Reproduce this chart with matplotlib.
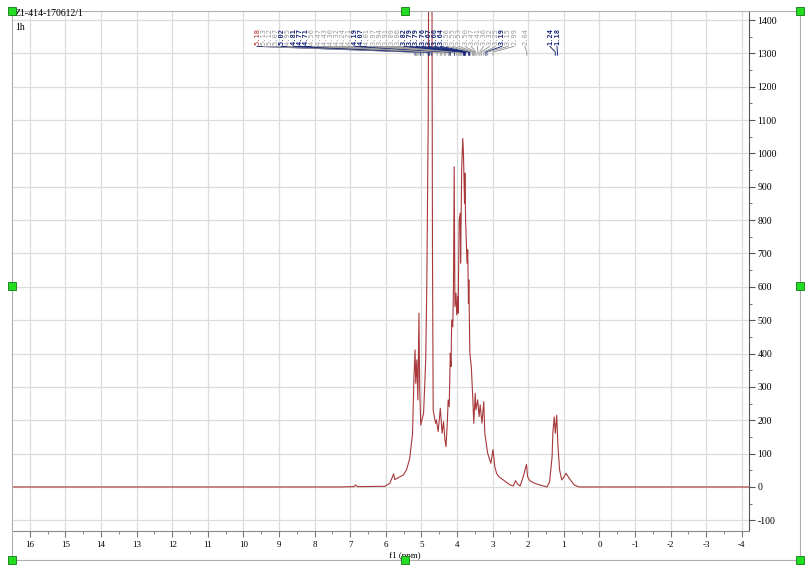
import matplotlib
matplotlib.use('Agg')
import matplotlib.pyplot as plt
from matplotlib.patches import Rectangle
from matplotlib.ticker import MultipleLocator

W, H = 810, 573  # output size in pixels

# 1H spectrum, points (ppm, intensity)
PPM = [16.5, 7.3, 6.9, 6.85, 6.8, 6.03, 5.89, 5.78, 5.75, 5.63, 5.51, 5.42,
       5.33, 5.25, 5.21, 5.18, 5.16, 5.13, 5.10, 5.07, 5.05, 5.02, 4.94,
       4.88, 4.85, 4.81, 4.79, 4.75, 4.71, 4.69, 4.67, 4.64, 4.60, 4.58,
       4.53, 4.47, 4.42, 4.38, 4.34, 4.31, 4.27, 4.25, 4.22, 4.19, 4.17,
       4.15, 4.12, 4.10, 4.08, 4.06, 4.03, 4.01, 3.98, 3.97, 3.94, 3.91,
       3.90, 3.87, 3.84, 3.82, 3.79, 3.78, 3.76, 3.72, 3.70, 3.68, 3.67,
       3.64, 3.60, 3.56, 3.53, 3.49, 3.47, 3.42, 3.38, 3.35, 3.30, 3.25,
       3.22, 3.14, 3.05, 2.99, 2.94, 2.89, 2.83, 2.70, 2.51, 2.42, 2.36,
       2.30, 2.23, 2.14, 2.05, 2.02, 1.96, 1.82, 1.68, 1.57, 1.47, 1.40,
       1.33, 1.31, 1.27, 1.24, 1.20, 1.17, 1.12, 1.06, 0.99, 0.94, 0.85,
       0.71, 0.57, -4.2]
INTENSITY = [0, 0, 1, 6, 1, 2, 11, 39, 22, 29, 36, 51,
             85, 160, 331, 411, 311, 381, 261, 521, 301, 186, 221,
             381, 600, 1100, 1800, 4000, 1800, 700, 231, 211, 191, 201,
             166, 236, 161, 196, 141, 121, 201, 261, 241, 401, 361,
             501, 480, 601, 960, 541, 581, 516, 571, 521, 801, 821,
             671, 951, 1045, 1001, 851, 941, 801, 671, 711, 551, 621,
             401, 361, 271, 191, 281, 231, 261, 211, 246, 191, 256,
             161, 101, 71, 112, 61, 41, 31, 21, 6, 3, 19,
             9, 3, 31, 68, 31, 19, 11, 6, 3, 0, 16,
             91, 161, 210, 161, 215, 131, 51, 21, 31, 41, 26,
             6, 0, 0]

# multiplet labels along the top
PEAK_LABELS = [5.18, 5.13, 5.12, 5.07, 5.02, 4.95, 4.81, 4.77, 4.71, 4.56,
               4.47, 4.43, 4.36, 4.32, 4.24, 4.21, 4.19, 4.07, 4.01, 3.97,
               3.94, 3.91, 3.89, 3.86, 3.82, 3.79, 3.79, 3.76, 3.67, 3.66,
               3.64, 3.56, 3.55, 3.53, 3.50, 3.47, 3.41, 3.36, 3.32, 3.25,
               3.19, 3.15, 2.99, 2.04, 1.24, 1.18]

X_TICKS = list(range(16, -5, -1))
Y_TICKS = list(range(-100, 1500, 100))

TITLE = 'Z1-414-170612/1'
SUBTITLE = '1h'
X_LABEL = 'f1 (ppm)'

# styling
SPEC_COLOR = '#a8393b'
NAVY = '#1c2a7a'
GREY_LBL = '#9c9c9c'
RED_LBL = '#b02020'
GRID = '#dcdcdc'
RED_IDX = [0]
BOLD_IDX = [4, 6, 7, 8, 16, 17, 24, 25, 26, 27, 28, 29, 30, 40, 44, 45]

plt.rcParams['axes.unicode_minus'] = False
plt.rcParams['font.family'] = ['Liberation Serif', 'DejaVu Serif']


def fig_xy(x, y):
    # pixel position in the picture -> figure fraction
    return x / W, 1 - y / H


fig = plt.figure(figsize=(W / 100, H / 100), dpi=100)
fig.patch.set_facecolor('white')

# plot box: x 12..749 px, y 11..531 px
ax = fig.add_axes([12 / W, 1 - 531 / H, 737 / W, 520 / H])
ax.plot(PPM, INTENSITY, color=SPEC_COLOR, lw=0.8, zorder=3)
ax.set_xlim(16.5, -4.2)
ax.set_ylim(-132, 1427)

# grid
for x in X_TICKS:
    ax.axvline(x, color=GRID, lw=0.9, zorder=0)
for y in Y_TICKS:
    ax.axhline(y, color=GRID, lw=0.9, zorder=0)

# axes: y on the right, x at the bottom
ax.yaxis.tick_right()
ax.set_xticks(X_TICKS)
ax.set_yticks(Y_TICKS)
ax.xaxis.set_minor_locator(MultipleLocator(0.5))
ax.yaxis.set_minor_locator(MultipleLocator(50))
ax.tick_params(axis='x', which='both', direction='out', color='#777777',
               labelsize=6.5, pad=3)
ax.tick_params(axis='x', which='major', length=4)
ax.tick_params(axis='x', which='minor', length=2)
ax.tick_params(axis='y', which='both', direction='out', color='#555555',
               labelsize=7, pad=2, right=True, left=False)
ax.tick_params(axis='y', which='major', length=4)
ax.tick_params(axis='y', which='minor', length=2)
ax.spines['left'].set_visible(False)
ax.spines['top'].set_visible(False)
ax.spines['right'].set_color('#555555')
ax.spines['bottom'].set_color('#888888')

# multiplet labels with connectors down to the peaks
label_px = [257 + i * (514 - 257) / 42 for i in range(43)] + [525, 550, 557]
to_axes = ax.transAxes.inverted()
for i, (p, lx) in enumerate(zip(PEAK_LABELS, label_px)):
    fx = (lx - 12) / 737
    if i in RED_IDX:
        col, wt = RED_LBL, 'normal'
    elif i in BOLD_IDX:
        col, wt = NAVY, 'bold'
    else:
        col, wt = GREY_LBL, 'normal'
    ax.text(fx, 0.935, f'{p:.2f}', transform=ax.transAxes, rotation=90,
            ha='center', va='bottom', fontsize=5, color=col, weight=wt,
            family='DejaVu Sans Mono', clip_on=False)
    px_, _ = to_axes.transform(ax.transData.transform((p, 0)))
    line_col = GREY_LBL if col == GREY_LBL else NAVY
    ax.plot([fx, px_, px_], [0.932, 0.921, 0.915], transform=ax.transAxes,
            color=line_col, lw=0.7, clip_on=False, zorder=4)

# title block
fig.text(*fig_xy(15, 14), TITLE, fontsize=7, va='center', ha='left')
fig.text(*fig_xy(15, 27), SUBTITLE, fontsize=7, va='center', ha='left')
fig.text(*fig_xy(405, 556), X_LABEL, fontsize=6.5, va='center', ha='center')

# outer frame with selection handles
fx0, fy0 = fig_xy(12, 560)
fig.add_artist(Rectangle((fx0, fy0), 788 / W, 549 / H, fill=False,
                         ec='#b0b0b0', lw=0.8, transform=fig.transFigure))
for hx in (12, 405, 800):
    for hy in (11, 286, 560):
        if hx == 405 and hy == 286:
            continue
        cx, cy = fig_xy(hx, hy)
        fig.add_artist(Rectangle((cx - 4 / W, cy - 4 / H), 8 / W, 8 / H,
                                 fc='#22dd22', ec='#117711', lw=0.6,
                                 transform=fig.transFigure, zorder=10))

fig.savefig('out.png', dpi=100)
